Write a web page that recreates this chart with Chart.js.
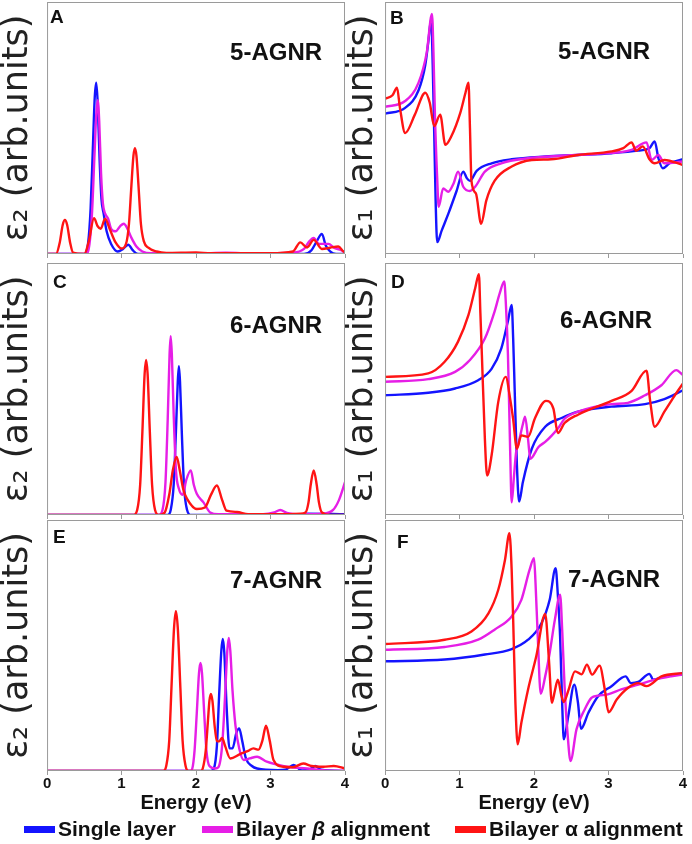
<!DOCTYPE html>
<html>
<head>
<meta charset="utf-8">
<script src="https://cdn.jsdelivr.net/npm/chart.js@4.4.0/dist/chart.umd.min.js"></script>
<style>
body{margin:0;background:#fff;width:692px;height:844px;position:relative;overflow:hidden;font-family:"Liberation Sans",Arial,sans-serif}
canvas{position:absolute}
.leg{position:absolute;top:817px;height:24px;display:flex;align-items:center;font-weight:bold;font-size:21px;color:#111;white-space:nowrap}
.leg .bar{display:inline-block;width:31px;height:7px;margin-right:3px}
</style>
</head>
<body>
<canvas id="cA" width="350" height="260" style="left:0;top:0"></canvas>
<canvas id="cB" width="347" height="260" style="left:345px;top:0"></canvas>
<canvas id="cC" width="350" height="260" style="left:0;top:261px"></canvas>
<canvas id="cD" width="347" height="260" style="left:345px;top:261px"></canvas>
<canvas id="cE" width="350" height="296" style="left:0;top:518px"></canvas>
<canvas id="cF" width="347" height="296" style="left:345px;top:518px"></canvas>

<div class="leg" style="left:24px"><span class="bar" style="background:#1414ff"></span>Single layer</div>
<div class="leg" style="left:202px"><span class="bar" style="background:#e61ee6"></span>Bilayer&nbsp;<i>β</i>&nbsp;alignment</div>
<div class="leg" style="left:455px"><span class="bar" style="background:#ff1414"></span>Bilayer α alignment</div>

<script>
// series names and colours
const seriesNames = ['Single layer', 'Bilayer β alignment', 'Bilayer α alignment']
const seriesColors = ['#1414ff', '#e61ee6', '#ff1414']
const energyTicks = [0, 1, 2, 3, 4]

// A : eps2, 5-AGNR   (energy eV, arb. units 0..100)
const a_single = [[0,0],[0.5,0],[0.55,4],[0.585,18],[0.615,42],[0.64,62],[0.66,68],[0.68,60],[0.705,38],[0.73,22],[0.76,16],[0.8,9],[0.86,4],[0.95,1],[1.02,2],[1.09,3.7],[1.15,1.5],[1.22,0],[3.45,0],[3.55,1.5],[3.62,5],[3.69,8],[3.74,3.5],[3.8,1],[3.88,0],[4,0]]
const a_beta = [[0,0],[0.52,0],[0.57,4],[0.605,17],[0.635,38],[0.66,55],[0.68,61],[0.7,53],[0.725,32],[0.75,20],[0.78,16],[0.82,14],[0.86,10],[0.92,9],[0.98,11],[1.03,12],[1.08,10],[1.13,6.6],[1.2,3],[1.28,1],[1.4,0.3],[2,0.2],[2.4,0.5],[2.8,0.2],[3.3,0.5],[3.45,2],[3.52,5],[3.58,6.4],[3.65,4],[3.72,4],[3.78,4],[3.85,2.5],[3.95,1.5],[4,0.5]]
const a_alpha = [[0,0],[0.12,0],[0.17,4.5],[0.21,11.5],[0.24,13.5],[0.27,11.5],[0.31,4.5],[0.35,0.5],[0.5,0],[0.56,5],[0.63,14.2],[0.68,11],[0.72,10],[0.78,14],[0.84,10],[0.92,4.6],[1.0,2.2],[1.06,4],[1.1,12],[1.13,26],[1.16,39],[1.18,42],[1.2,39],[1.23,26],[1.26,12],[1.3,5],[1.36,2.5],[1.47,1],[1.6,0.4],[2.0,0.6],[2.2,0.3],[2.6,0.3],[3.0,0.3],[3.3,1],[3.4,4.6],[3.49,2.6],[3.58,5.6],[3.69,2],[3.8,2.5],[3.91,3],[3.98,1],[4,0.8]]

// B : eps1, 5-AGNR
const b_single = [[0,55.7],[0.27,58],[0.45,65],[0.54,75],[0.58,84],[0.62,93.3],[0.64,75],[0.66,48],[0.68,20],[0.7,4.7],[0.76,9.3],[0.85,16],[0.96,25],[1.05,32.7],[1.1,30],[1.14,29],[1.23,33],[1.43,36],[1.7,37.6],[2.15,38.7],[2.59,39.3],[3.04,40],[3.4,41],[3.55,42],[3.62,44.7],[3.67,38],[3.73,34],[3.82,36],[4,37.6]]
const b_beta = [[0,58.4],[0.27,60.7],[0.45,68],[0.56,80],[0.63,95.3],[0.65,80],[0.67,54.7],[0.7,30],[0.72,18.7],[0.78,26],[0.85,24.7],[0.92,28],[0.98,32.7],[1.05,26.7],[1.14,25],[1.21,26.7],[1.34,32.7],[1.56,36],[1.92,38],[2.37,39],[2.82,39.7],[3.31,41.3],[3.51,44.3],[3.58,37.3],[3.67,39.3],[3.75,36],[4,36.7]]
const b_alpha = [[0,61.6],[0.1,63],[0.16,66],[0.2,58],[0.27,48],[0.4,55.3],[0.54,64],[0.6,60],[0.66,50.7],[0.74,55.3],[0.81,43.3],[0.89,46.7],[1.01,56],[1.08,64],[1.12,68],[1.14,50],[1.16,29],[1.22,24],[1.29,12],[1.36,21.3],[1.47,29],[1.7,34.7],[1.97,37.3],[2.23,37.6],[2.59,39.3],[3.04,40.7],[3.2,42],[3.31,44.3],[3.37,41],[3.46,42.7],[3.55,37.6],[3.62,36],[3.75,37.3],[4,35.3]]

// C : eps2, 6-AGNR
const c_single = [[0,0],[1.62,0],[1.66,2],[1.7,12],[1.73,33],[1.755,53],[1.77,59],[1.785,53],[1.81,32],[1.84,11],[1.88,2],[1.93,0],[3.3,0],[3.5,0.5],[4,0.3]]
const c_beta = [[0,0],[1.5,0],[1.55,2],[1.59,13],[1.62,38],[1.645,64],[1.66,71],[1.675,64],[1.7,40],[1.73,18],[1.77,10.4],[1.82,8],[1.87,14],[1.93,17.7],[1.97,12],[2.01,8.4],[2.1,5],[2.19,1],[2.3,0.3],[2.9,0.3],[3.05,1],[3.13,2],[3.22,0.8],[3.4,0.3],[3.7,0.5],[3.84,2],[3.92,6],[4,13]]
const c_alpha = [[0,0],[1.16,0],[1.21,2],[1.25,12],[1.28,33],[1.31,56],[1.33,61.5],[1.35,56],[1.38,33],[1.41,12],[1.45,2],[1.5,0],[1.58,1],[1.64,8],[1.69,18],[1.74,23],[1.78,18],[1.83,10],[1.88,6.4],[2.01,2.4],[2.12,3],[2.2,8],[2.28,11.7],[2.35,6],[2.41,1.7],[2.55,1.2],[2.7,0.3],[3.1,0.3],[3.4,0.5],[3.47,1],[3.51,5],[3.54,12],[3.58,17.7],[3.62,12],[3.65,5],[3.69,1],[3.8,0],[4,0]]

// D : eps1, 6-AGNR
const d_single = [[0,47.5],[0.58,48.5],[0.94,50.2],[1.25,53.5],[1.43,58],[1.56,66],[1.65,77],[1.7,83.4],[1.72,70],[1.74,50],[1.77,20],[1.8,5.3],[1.85,13],[1.97,26.3],[2.15,35],[2.37,38.5],[2.59,41],[3.04,43],[3.49,44],[3.75,46],[4,49.5]]
const d_beta = [[0,52.9],[0.58,53.9],[0.94,56.8],[1.14,61.5],[1.34,70],[1.47,80.7],[1.54,88],[1.6,92.7],[1.62,85],[1.65,63.5],[1.68,25],[1.7,5],[1.73,15],[1.76,25],[1.79,28.3],[1.85,36],[1.88,39],[1.92,30],[1.95,22.3],[2.06,27],[2.15,29],[2.24,31.6],[2.32,34.3],[2.41,38.2],[2.59,41],[3.04,44],[3.26,44.5],[3.49,47.5],[3.71,51.5],[3.91,57.5],[4,55.5]]
const d_alpha = [[0,54.8],[0.58,56.2],[0.8,60.8],[0.98,68.8],[1.12,79.4],[1.21,90],[1.26,95.6],[1.28,80],[1.3,63.5],[1.34,30.3],[1.37,15.7],[1.43,23.6],[1.52,44.9],[1.62,54.8],[1.68,46],[1.72,38],[1.77,26.3],[1.83,31.6],[1.92,31],[2.01,38.2],[2.16,45.3],[2.26,42.2],[2.32,32.5],[2.41,36.5],[2.59,39.8],[3.04,45.3],[3.31,49.3],[3.51,57.3],[3.56,45],[3.62,35],[3.75,41],[3.88,47],[4,52.2]]

// E : eps2, 7-AGNR
const e_single = [[0,0],[2.2,0],[2.24,1],[2.28,10],[2.31,30],[2.34,48],[2.36,52.6],[2.38,47],[2.41,26],[2.45,9],[2.49,9],[2.54,15],[2.58,17],[2.62,12],[2.67,5],[2.75,2],[2.82,1],[3.1,0.3],[3.2,0.5],[3.31,2.4],[3.42,0.2],[3.52,0.5],[3.6,2],[3.68,0.5],[4,0]]
const e_beta = [[0,0],[1.92,0],[1.95,1],[1.98,8],[2.01,23],[2.04,39],[2.06,43],[2.08,39],[2.11,23],[2.14,8],[2.18,2],[2.26,1],[2.3,1.5],[2.35,10],[2.39,30],[2.42,48],[2.44,53],[2.46,48],[2.49,32],[2.53,18],[2.58,9],[2.64,4.4],[2.72,5],[2.82,5.7],[2.95,3.7],[3.1,2.5],[3.22,1.7],[3.49,1],[3.7,0.3],[4,0]]
const e_alpha = [[0,0],[1.56,0],[1.6,2],[1.64,12],[1.67,33],[1.705,57],[1.73,63.7],[1.755,57],[1.79,33],[1.82,12],[1.86,2],[1.9,0],[2.06,0],[2.09,1],[2.13,8],[2.16,20],[2.18,28],[2.2,30.7],[2.22,28],[2.25,18],[2.28,12],[2.31,11.8],[2.35,13.2],[2.39,10],[2.46,5],[2.59,6.7],[2.7,8],[2.77,9],[2.84,8.5],[2.89,12],[2.94,18],[2.99,12],[3.04,4.4],[3.17,1.7],[3.3,1.5],[3.44,3],[3.55,2],[3.71,1.7],[3.85,2],[4,1]]

// F : eps1, 7-AGNR
const f_single = [[0,43.7],[0.8,44.4],[1.34,46.4],[1.7,48.6],[1.92,52.3],[2.1,58.9],[2.21,68.2],[2.29,80.8],[2.32,70],[2.35,53.6],[2.38,25],[2.4,12.6],[2.46,21.9],[2.54,34.4],[2.59,27.2],[2.63,16.8],[2.73,23.2],[2.86,29.8],[3.04,33.8],[3.23,37.7],[3.3,35],[3.4,35.5],[3.55,38.7],[3.6,36.4],[3.75,37.7],[4,39]]
const f_beta = [[0,48.3],[0.8,49.4],[1.25,52.3],[1.47,56.3],[1.7,61.6],[1.83,68.2],[1.94,80.1],[2.0,84.8],[2.02,75],[2.05,53.6],[2.09,30.8],[2.15,37.7],[2.21,47],[2.28,60.3],[2.35,70.2],[2.38,55],[2.41,33.8],[2.45,15],[2.49,4],[2.57,16.6],[2.68,24.5],[2.77,29.1],[2.86,30],[2.99,30.5],[3.17,32.5],[3.4,34.4],[3.62,36.4],[3.84,37.7],[4,38.4]]
const f_alpha = [[0,50.6],[0.8,52.3],[1.16,55.6],[1.39,62.9],[1.52,72.2],[1.61,84.1],[1.67,94.7],[1.7,80],[1.72,60.3],[1.75,27.2],[1.78,10.6],[1.83,19.2],[1.92,32.5],[2.03,45.7],[2.15,62.6],[2.2,44.4],[2.24,27.2],[2.28,32],[2.32,36.4],[2.37,29.8],[2.4,27.5],[2.46,32],[2.55,39.7],[2.64,38.5],[2.71,42.4],[2.78,38.4],[2.88,42],[2.95,32.5],[3.0,23.4],[3.11,28.5],[3.26,33.1],[3.4,35],[3.51,33.8],[3.71,37.7],[4,39]]

// letter + ribbon name, drawn at offsets from the plot corner, plus the grey frame
const panelText = {
    id: 'panelText',
    afterDraw(chart, args, opts) {
        const {ctx, chartArea} = chart
        ctx.save()
        ctx.strokeStyle = '#9a9a9a'
        ctx.lineWidth = 1
        ctx.strokeRect(chartArea.left + 0.5, chartArea.top + 0.5, chartArea.width - 1, chartArea.height - 1)
        ctx.fillStyle = '#111'
        ctx.textBaseline = 'alphabetic'
        ctx.font = 'bold 19px "Liberation Sans"'
        ctx.fillText(opts.letter, chartArea.left + opts.lx, chartArea.top + opts.ly)
        ctx.font = 'bold 24px "Liberation Sans"'
        ctx.fillText(opts.name, chartArea.left + opts.nx, chartArea.top + opts.ny)
        ctx.restore()
    }
}

function makePanel(id, series, yTitle, bottom, text, right) {
    const datasets = series.map((s, i) => ({
        label: seriesNames[i],
        data: s.map(p => ({x: p[0], y: p[1]})),
        borderColor: seriesColors[i],
        borderWidth: 2.4,
        pointRadius: 0,
        cubicInterpolationMode: 'monotone',
        fill: false,
        order: 3 - i
    }))
    const config = {
        type: 'line',
        data: {datasets},
        plugins: [panelText],
        options: {
            responsive: false,
            animation: false,
            layout: {padding: {top: 2, bottom: bottom ? 1 : 2, left: 0, right: right ? 9 : 5}},
            plugins: {
                legend: {display: false},
                tooltip: {enabled: false},
                panelText: text
            },
            scales: {
                x: {
                    type: 'linear', min: 0, max: 4,
                    afterBuildTicks: axis => { axis.ticks = energyTicks.map(v => ({value: v})) },
                    ticks: {display: bottom, padding: 0, color: '#111', font: {family: 'Liberation Sans', weight: 'bold', size: 15}},
                    grid: {display: true, drawOnChartArea: false, drawTicks: true, tickLength: 4, color: '#9a9a9a'},
                    border: {display: false},
                    title: {display: bottom, text: 'Energy (eV)', color: '#111', padding: 0,
                        font: {family: 'Liberation Sans', weight: 'bold', size: 20, lineHeight: 1}}
                },
                y: {
                    min: 0, max: 100,
                    ticks: {display: false},
                    grid: {display: false, drawTicks: false},
                    border: {display: false},
                    title: {display: true, text: yTitle, color: '#222', padding: {top: 0, bottom: right ? 4 : 11},
                        font: {family: 'DejaVu Sans', size: 35, lineHeight: 1.03}}
                }
            }
        }
    }
    return new Chart(document.getElementById(id), config)
}

const eps2 = 'ε₂ (arb.units)'
const eps1 = 'ε₁ (arb.units)'

makePanel('cA', [a_single, a_beta, a_alpha], eps2, false, {letter: 'A', lx: 3, ly: 21, name: '5-AGNR', nx: 183, ny: 58}, false)
makePanel('cB', [b_single, b_beta, b_alpha], eps1, false, {letter: 'B', lx: 5, ly: 22, name: '5-AGNR', nx: 173, ny: 57}, true)
makePanel('cC', [c_single, c_beta, c_alpha], eps2, false, {letter: 'C', lx: 6, ly: 25, name: '6-AGNR', nx: 183, ny: 70}, false)
makePanel('cD', [d_single, d_beta, d_alpha], eps1, false, {letter: 'D', lx: 6, ly: 25, name: '6-AGNR', nx: 175, ny: 65}, true)
makePanel('cE', [e_single, e_beta, e_alpha], eps2, true, {letter: 'E', lx: 6, ly: 23, name: '7-AGNR', nx: 183, ny: 68}, false)
makePanel('cF', [f_single, f_beta, f_alpha], eps1, true, {letter: 'F', lx: 12, ly: 28, name: '7-AGNR', nx: 183, ny: 67}, true)
</script>
</body>
</html>
